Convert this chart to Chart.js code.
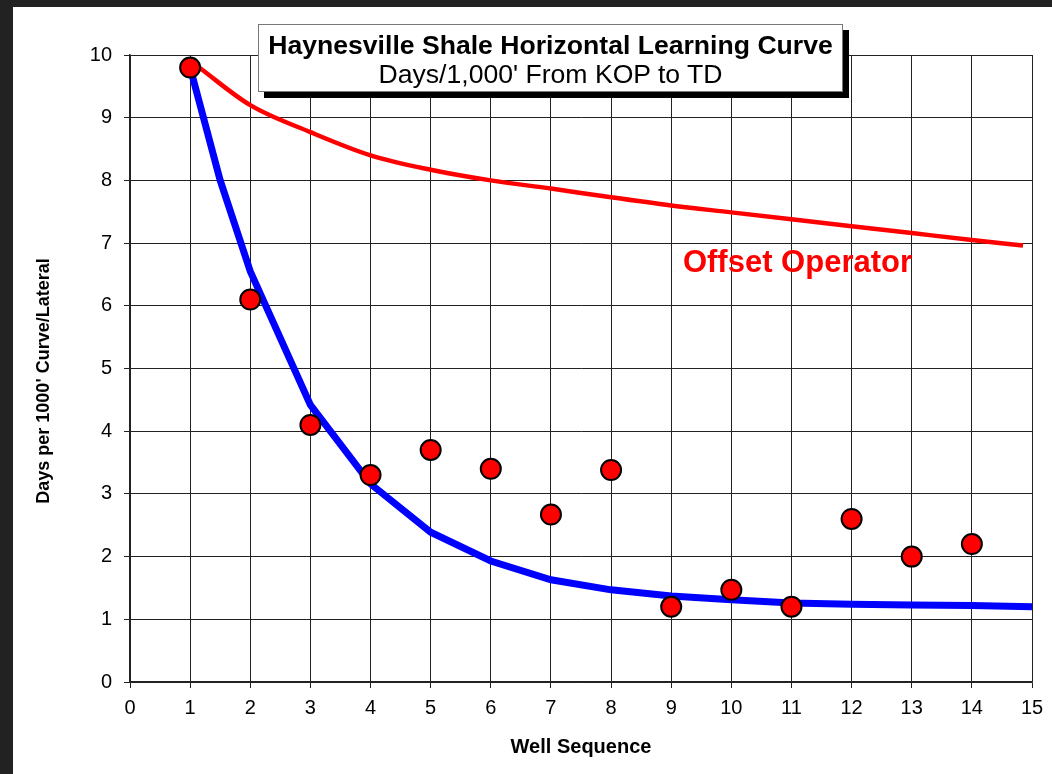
<!DOCTYPE html>
<html>
<head>
<meta charset="utf-8">
<script src="https://cdn.jsdelivr.net/npm/chart.js@4"></script>
<style>
  html, body { margin: 0; padding: 0; }
  body { width: 1052px; height: 774px; background: #222; position: relative; overflow: hidden; }
  #panel { position: absolute; left: 13px; top: 7px; width: 1039px; height: 767px; background: #fff; }
  #wrap { position: absolute; left: 0; top: 0; width: 1052px; height: 774px; }
  #titlebox {
    position: absolute; left: 258px; top: 24px; width: 583px; height: 66px;
    background: #fff; border: 1px solid #777; box-shadow: 6px 6px 0 #000;
    font-family: "Liberation Sans", Arial, sans-serif; text-align: center; color: #000;
    white-space: nowrap;
  }
  #titlebox .t1 { font-weight: bold; font-size: 26.6px; margin-top: 5px; line-height: 30px; }
  #titlebox .t2 { font-size: 26.6px; line-height: 29px; }
</style>
</head>
<body>
<div id="panel"></div>
<div id="wrap"><canvas id="chart" width="1052" height="774"></canvas></div>
<div id="titlebox">
  <div class="t1">Haynesville Shale Horizontal Learning Curve</div>
  <div class="t2">Days/1,000' From KOP to TD</div>
</div>
<script>
// actual wells
const wellNo = [1, 2, 3, 4, 5, 6, 7, 8, 9, 10, 11, 12, 13, 14]
const wellDays = [9.8, 6.1, 4.1, 3.3, 3.7, 3.4, 2.67, 3.38, 1.2, 1.47, 1.2, 2.6, 2.0, 2.2]

// blue learning curve
const curveX = [1, 1.5, 2, 3, 4, 5, 6, 7, 8, 9, 10, 11, 12, 13, 14, 15]
const curveY = [9.8, 8.0, 6.55, 4.42, 3.16, 2.39, 1.93, 1.63, 1.47, 1.37, 1.31, 1.26, 1.24, 1.23, 1.22, 1.2]

// offset operator curve
const offsetX = [1.15, 2, 3, 4, 5, 6, 7, 8, 9, 10, 11, 12, 13, 14, 14.85]
const offsetY = [9.8, 9.2, 8.77, 8.4, 8.17, 8.0, 7.87, 7.73, 7.6, 7.49, 7.38, 7.27, 7.16, 7.05, 6.96]

const xTicks = [0, 1, 2, 3, 4, 5, 6, 7, 8, 9, 10, 11, 12, 13, 14, 15]
const yTicks = [0, 1, 2, 3, 4, 5, 6, 7, 8, 9, 10]

const FONT = "'Liberation Sans', Arial, sans-serif"
const toPts = (xs, ys) => xs.map((x, i) => ({ x, y: ys[i] }))

// red label inside the plot
const offsetLabel = {
  id: "offsetLabel",
  afterDatasetsDraw(chart) {
    const { ctx, scales } = chart
    ctx.save()
    ctx.font = "bold 31px " + FONT
    ctx.fillStyle = "#ff0000"
    ctx.textAlign = "center"
    ctx.textBaseline = "middle"
    ctx.fillText("Offset Operator", scales.x.getPixelForValue(11.1), scales.y.getPixelForValue(6.68))
    ctx.restore()
  }
}

new Chart(document.getElementById("chart"), {
  type: "scatter",
  data: {
    datasets: [
      {
        label: "Wells",
        data: toPts(wellNo, wellDays),
        backgroundColor: "#ff0000",
        borderColor: "#000",
        borderWidth: 2,
        pointRadius: 10,
        order: 0
      },
      {
        label: "Learning curve",
        data: toPts(curveX, curveY),
        showLine: true,
        borderColor: "#0000ff",
        borderWidth: 7,
        pointRadius: 0,
        tension: 0,
        clip: false,
        order: 1
      },
      {
        label: "Offset Operator",
        data: toPts(offsetX, offsetY),
        showLine: true,
        borderColor: "#ff0000",
        borderWidth: 4.5,
        pointRadius: 0,
        cubicInterpolationMode: "monotone",
        order: 2
      }
    ]
  },
  options: {
    responsive: false,
    animation: false,
    layout: { padding: { left: 0, top: 55, right: 20, bottom: 0 } },
    plugins: {
      legend: { display: false },
      tooltip: { enabled: false }
    },
    scales: {
      x: {
        type: "linear",
        min: 0,
        max: 15,
        afterBuildTicks: s => { s.ticks = xTicks.map(v => ({ value: v })) },
        afterFit: s => { s.height = 92 },
        grid: { color: "#222", lineWidth: 1, tickLength: 6 },
        border: { color: "#222", width: 1.5 },
        ticks: { color: "#000", font: { family: FONT, size: 20 }, padding: 8, maxRotation: 0 },
        title: {
          display: true,
          text: "Well Sequence",
          color: "#000",
          font: { family: FONT, size: 20, weight: "bold" },
          padding: { top: 0, bottom: 15 }
        }
      },
      y: {
        min: 0,
        max: 10,
        afterBuildTicks: s => { s.ticks = yTicks.map(v => ({ value: v })) },
        afterFit: s => { s.width = 130 },
        grid: { color: "#222", lineWidth: 1, tickLength: 6 },
        border: { color: "#222", width: 1.5 },
        ticks: { color: "#000", font: { family: FONT, size: 20 }, padding: 12 },
        title: {
          display: true,
          // trailing spaces push the text a little lower, like the original
          text: "Days per 1000' Curve/Lateral     ",
          color: "#000",
          font: { family: FONT, size: 18, weight: "bold" },
          padding: { top: 33, bottom: 0 }
        }
      }
    }
  },
  plugins: [offsetLabel]
})
</script>
</body>
</html>
